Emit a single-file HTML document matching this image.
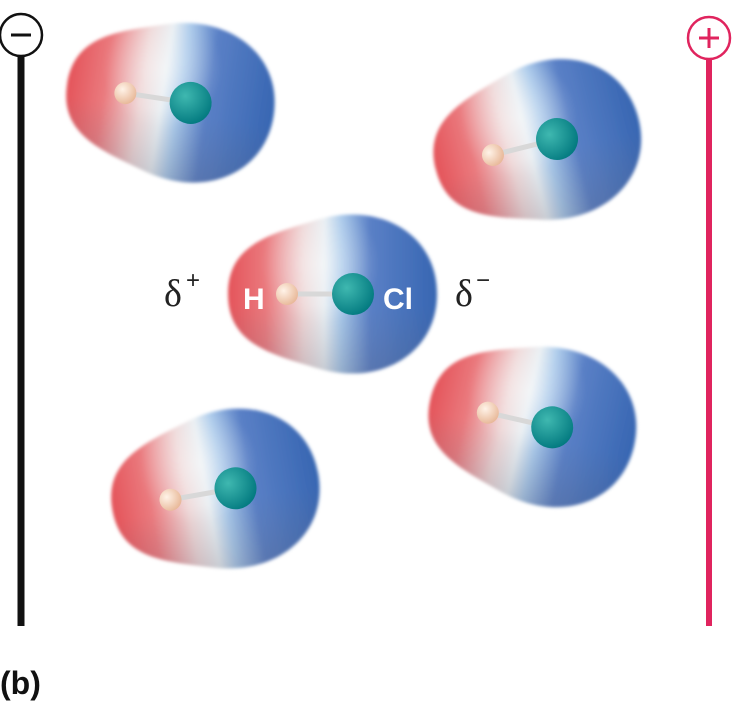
<!DOCTYPE html>
<html><head><meta charset="utf-8"><style>
html,body{margin:0;padding:0;background:#fff;width:735px;height:709px;overflow:hidden}
</style></head><body>
<svg width="735" height="709" viewBox="0 0 735 709" xmlns="http://www.w3.org/2000/svg">
<defs>
<filter id="bl" x="-10%" y="-10%" width="120%" height="120%"><feGaussianBlur stdDeviation="1.5"/></filter>
<linearGradient id="g" gradientUnits="userSpaceOnUse" x1="-92" y1="0" x2="117" y2="0">
<stop offset="0" stop-color="#e4545a"/>
<stop offset="0.18" stop-color="#ea7a7e"/>
<stop offset="0.36" stop-color="#eed6d6"/>
<stop offset="0.46" stop-color="#e8eef2"/>
<stop offset="0.54" stop-color="#a9c9ea"/>
<stop offset="0.68" stop-color="#5a80c6"/>
<stop offset="1" stop-color="#3766b2"/>
</linearGradient>
<linearGradient id="sh" gradientUnits="userSpaceOnUse" x1="0" y1="-80" x2="0" y2="85">
<stop offset="0.55" stop-color="#667" stop-opacity="0"/>
<stop offset="1" stop-color="#556" stop-opacity="0.25"/>
</linearGradient>
<radialGradient id="hl" cx="0" cy="-30" r="60" gradientUnits="userSpaceOnUse">
<stop offset="0" stop-color="#fff" stop-opacity="0.45"/>
<stop offset="1" stop-color="#fff" stop-opacity="0"/>
</radialGradient>
<radialGradient id="hg" cx="0.35" cy="0.35" r="0.7">
<stop offset="0" stop-color="#fff3e8"/><stop offset="1" stop-color="#e8b898"/>
</radialGradient>
<radialGradient id="cg" cx="0.35" cy="0.35" r="0.7">
<stop offset="0" stop-color="#3fb8b0"/><stop offset="1" stop-color="#037a80"/>
</radialGradient>
<g id="m">
<g filter="url(#bl)">
<path d="M -92,0 C -92,-50 -50,-60 0,-75 C 60,-92 117,-60 117,0 C 117,60 60,92 0,75 C -50,60 -92,50 -92,0 Z" fill="url(#g)"/>
<path d="M -92,0 C -92,-50 -50,-60 0,-75 C 60,-92 117,-60 117,0 C 117,60 60,92 0,75 C -50,60 -92,50 -92,0 Z" fill="url(#hl)"/>
<path d="M -92,0 C -92,-50 -50,-60 0,-75 C 60,-92 117,-60 117,0 C 117,60 60,92 0,75 C -50,60 -92,50 -92,0 Z" fill="url(#sh)"/>
</g>
<line x1="-33" y1="0" x2="33" y2="0" stroke="#d8d8d8" stroke-width="5"/>
<circle cx="-33" cy="0" r="11" fill="url(#hg)"/>
<circle cx="33" cy="0" r="21" fill="url(#cg)"/>
</g>
</defs>
<line x1="21" y1="55" x2="21" y2="626" stroke="#111" stroke-width="7"/>
<circle cx="21" cy="35" r="21" fill="#fff" stroke="#111" stroke-width="2.5"/>
<line x1="11" y1="35" x2="31" y2="35" stroke="#111" stroke-width="3"/>
<line x1="709" y1="58" x2="709" y2="626" stroke="#e0245e" stroke-width="6"/>
<circle cx="709" cy="38" r="21" fill="#fff" stroke="#e0245e" stroke-width="2.5"/>
<line x1="699" y1="38" x2="719" y2="38" stroke="#e0245e" stroke-width="3"/>
<line x1="709" y1="28" x2="709" y2="48" stroke="#e0245e" stroke-width="3"/>
<use href="#m" transform="translate(158,98) rotate(8.6)"/>
<use href="#m" transform="translate(525,147) rotate(-14)"/>
<use href="#m" transform="translate(320,294)"/>
<use href="#m" transform="translate(520,420) rotate(12.8)"/>
<use href="#m" transform="translate(203,494) rotate(-10)"/>
<text x="243" y="309" font-family="Liberation Sans, sans-serif" font-weight="bold" font-size="30" fill="#fff">H</text>
<text x="383" y="309" font-family="Liberation Sans, sans-serif" font-weight="bold" font-size="30" fill="#fff">Cl</text>
<text x="164" y="306" font-family="Liberation Serif, serif" font-size="38" fill="#222">δ</text>
<text x="186" y="288" font-family="Liberation Sans, sans-serif" font-size="24" fill="#222">+</text>
<text x="455" y="306" font-family="Liberation Serif, serif" font-size="38" fill="#222">δ</text>
<text x="476" y="288" font-family="Liberation Sans, sans-serif" font-size="24" fill="#222">−</text>
<text x="0" y="694" font-family="Liberation Sans, sans-serif" font-weight="bold" font-size="32" fill="#111">(b)</text>
</svg>
</body></html>
